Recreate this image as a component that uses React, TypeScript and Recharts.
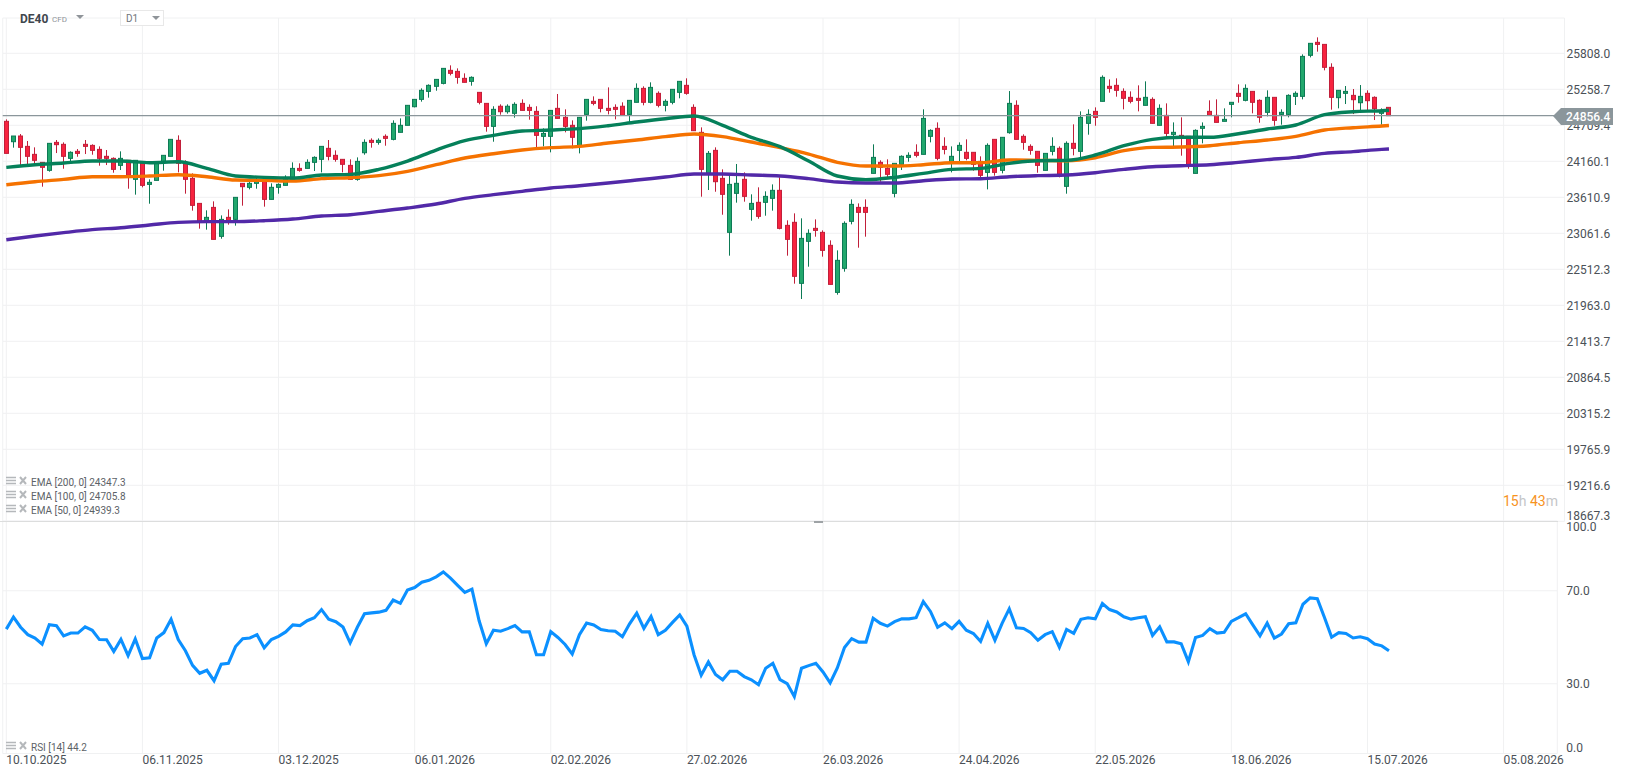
import * as React from "react";
import { ComposedChart, LineChart, Bar, Line, XAxis, YAxis, CartesianGrid, ReferenceLine } from "recharts";

const opens = [
  24770, 24459, 24546, 24388, 24266, 24144, 24022, 24449, 24419, 24205,
  24312, 24419, 24403, 24342, 24236, 24205, 24098, 24175, 23885, 24129,
  23808, 23869, 24144, 24236, 24480, 24144, 23900, 23518, 23244, 23457,
  23015, 23305, 23274, 23824, 23763, 23824, 23885, 23579, 23763, 23793,
  23885, 24052, 24052, 24144, 24190, 24358, 24251, 24190, 24098, 23885,
  24291, 24480, 24449, 24541, 24495, 24602, 24709, 24993, 25105, 25227,
  25304, 25349, 25548, 25532, 25426, 25380, 25212, 25044, 24693, 25000,
  24917, 24892, 25044, 24983, 24922, 24541, 24541, 24968, 24831, 24709,
  24388, 24876, 25075, 25105, 24968, 24983, 25000, 24876, 25060, 25273,
  25060, 25197, 25014, 25060, 25212, 25319, 24983, 24602, 23976, 24327,
  23900, 23076, 23671, 23885, 23427, 23534, 23534, 23595, 23717, 23183,
  23229, 22298, 22939, 23137, 23076, 22878, 22160, 22527, 23244, 23457,
  23457, 23976, 24144, 24052, 23671, 24114, 24220, 24297, 24266, 24541,
  24663, 24388, 24144, 24327, 24297, 24297, 24159, 23991, 24495, 24022,
  24597, 25014, 24541, 24388, 24312, 24022, 24312, 24358, 23778, 24434,
  24312, 24739, 24922, 25075, 25304, 25319, 25227, 25136, 25121, 25014,
  25105, 24709, 24861, 24571, 24556, 24541, 23976, 24663, 24922, 24861,
  24770, 25029, 25197, 25090, 25227, 25090, 24907, 25136, 24876, 24876,
  25151, 25151, 25777, 25975, 25944, 25594, 25131, 25197, 25166, 25054,
  25197, 25136, 24892, 24983,
];

const highs = [
  24800, 24546, 24576, 24470, 24373, 24144, 24434, 24485, 24449, 24312,
  24347, 24485, 24419, 24388, 24332, 24220, 24312, 24175, 24175, 24159,
  23885, 24129, 24251, 24495, 24556, 24175, 23976, 23518, 23412, 23549,
  23335, 23427, 23610, 23824, 23864, 23915, 23900, 23824, 23824, 23946,
  24144, 24129, 24190, 24236, 24388, 24485, 24327, 24190, 24190, 24220,
  24495, 24510, 24510, 24571, 24785, 24815, 25014, 25105, 25273, 25334,
  25410, 25578, 25624, 25578, 25502, 25456, 25212, 25044, 25000, 25029,
  25029, 25060, 25105, 25029, 25000, 24663, 24937, 25187, 24953, 24785,
  24831, 25105, 25151, 25105, 25288, 25029, 25060, 25090, 25349, 25304,
  25365, 25227, 25105, 25258, 25380, 25426, 25029, 24678, 24317, 24373,
  24037, 23961, 24119, 23991, 23656, 23763, 23702, 23808, 23915, 23259,
  23366, 23290, 23122, 23274, 23106, 22954, 22801, 23244, 23579, 23518,
  23579, 24419, 24175, 24190, 24129, 24251, 24297, 24419, 24953, 24648,
  24754, 24526, 24388, 24449, 24495, 24297, 24236, 24434, 24495, 24526,
  25232, 25090, 24571, 24419, 24312, 24281, 24526, 24388, 24464, 24724,
  24922, 24953, 24983, 25471, 25410, 25426, 25273, 25227, 25319, 25380,
  25136, 25029, 25044, 24754, 24831, 24541, 24648, 24754, 25090, 25105,
  24968, 25060, 25334, 25334, 25227, 25105, 25243, 25136, 24953, 25182,
  25227, 25792, 25960, 26051, 25944, 25655, 25243, 25309, 25263, 25324,
  25243, 25151, 24968, 24983,
];

const lows = [
  24281, 24368, 24098, 24114, 24114, 23773, 24002, 24286, 24047, 24159,
  24230, 24271, 24261, 24093, 24103, 23986, 24027, 23742, 23651, 23763,
  23513, 23869, 24017, 24236, 23991, 23666, 23407, 23132, 23117, 22969,
  22979, 23193, 23178, 23483, 23732, 23742, 23468, 23579, 23666, 23793,
  23885, 24002, 24052, 24012, 23991, 24175, 24154, 23991, 23885, 23864,
  24261, 24368, 24414, 24398, 24480, 24602, 24709, 24983, 25070, 25131,
  25237, 25334, 25471, 25344, 25365, 25314, 25029, 24612, 24459, 24871,
  24887, 24826, 24937, 24795, 24353, 24388, 24297, 24815, 24602, 24358,
  24281, 24780, 25014, 24907, 24876, 24800, 24861, 24754, 25060, 25014,
  25044, 24983, 24922, 25029, 25121, 25176, 24627, 23620, 23722, 23696,
  23345, 22720, 23529, 23544, 23254, 23284, 23330, 23407, 23122, 22720,
  22293, 22059, 22552, 23010, 22705, 22282, 22125, 22476, 23198, 22842,
  23010, 23976, 23849, 23900, 23610, 24027, 24154, 24220, 24266, 24449,
  24175, 24266, 23991, 24154, 24175, 24017, 23915, 23732, 23941, 23976,
  24581, 24495, 24337, 24261, 23986, 24022, 24251, 23915, 23666, 24251,
  24220, 24566, 24703, 25075, 25207, 25146, 24953, 25044, 24922, 25014,
  24739, 24709, 24510, 24358, 24246, 24047, 23976, 24434, 24861, 24754,
  24770, 24831, 25054, 25075, 24892, 24749, 24846, 24703, 24719, 24831,
  25019, 25105, 25746, 25833, 25548, 24948, 24968, 25034, 24881, 24902,
  24932, 24790, 24719, 24856.4,
];

const closes = [
  24281, 24546, 24373, 24236, 24175, 24068, 24434, 24414, 24236, 24297,
  24281, 24388, 24327, 24205, 24205, 24037, 24205, 23946, 24175, 23793,
  23839, 24129, 24251, 24495, 24129, 23885, 23488, 23239, 23305, 22969,
  23274, 23259, 23610, 23773, 23824, 23864, 23579, 23763, 23808, 23885,
  24052, 24022, 24144, 24220, 24388, 24236, 24190, 24114, 23885, 24159,
  24449, 24449, 24480, 24510, 24739, 24709, 25014, 25105, 25243, 25319,
  25410, 25578, 25502, 25441, 25365, 25441, 25060, 24693, 24953, 24917,
  25000, 25029, 24937, 24937, 24556, 24586, 24937, 24815, 24693, 24526,
  24831, 25105, 25044, 24968, 24937, 24953, 24861, 25090, 25273, 25060,
  25288, 25014, 25075, 25258, 25380, 25197, 24627, 24037, 24281, 23849,
  23656, 23808, 23824, 23625, 23518, 23320, 23625, 23717, 23137, 22969,
  22405, 22984, 23061, 23106, 22801, 22282, 22649, 23213, 23503, 23381,
  23381, 24220, 24068, 23961, 24129, 24236, 24251, 24251, 24815, 24632,
  24205, 24342, 24236, 24403, 24205, 24114, 23946, 24403, 23991, 24526,
  25044, 24495, 24449, 24327, 24098, 24281, 24388, 23930, 24434, 24358,
  24831, 24876, 24831, 25441, 25273, 25243, 25121, 25075, 25090, 25136,
  24739, 24968, 24586, 24602, 24526, 24098, 24632, 24693, 24861, 24754,
  24800, 25060, 25151, 25273, 25060, 24831, 25136, 24785, 24907, 25166,
  25197, 25761, 25960, 25944, 25594, 25136, 25243, 25227, 25100, 25151,
  25085, 24963, 24927, 24856.4,
];

// EMAs, last entry is the final bar (193)
const ema50 = [
  24068, 24108, 24134, 24164, 24164, 24139, 24154, 24052, 23936, 23915,
  23905, 23951, 23961, 24037, 24164, 24332, 24475, 24556, 24622, 24637,
  24658, 24703, 24759, 24810, 24851, 24709, 24526, 24383, 24164, 23936,
  23880, 23915, 23976, 24037, 24052, 24129, 24169, 24175, 24256, 24398,
  24495, 24526, 24526, 24581, 24653, 24714, 24871, 24917, 24932, 24939.3,
];
const ema100 = [
  23803, 23849, 23885, 23925, 23925, 23936, 23956, 23925, 23874, 23869,
  23859, 23895, 23910, 23941, 24007, 24108, 24210, 24276, 24332, 24368,
  24388, 24439, 24485, 24536, 24576, 24536, 24454, 24368, 24271, 24144,
  24088, 24088, 24108, 24139, 24139, 24180, 24175, 24169, 24215, 24322,
  24373, 24378, 24398, 24444, 24485, 24541, 24637, 24673, 24698, 24705.8,
];
const ema200 = [
  22964, 23020, 23071, 23117, 23147, 23188, 23229, 23239, 23239, 23254,
  23279, 23325, 23345, 23396, 23447, 23508, 23595, 23651, 23702, 23752,
  23788, 23829, 23874, 23920, 23966, 23966, 23951, 23936, 23895, 23844,
  23829, 23829, 23864, 23890, 23895, 23925, 23941, 23951, 23986, 24037,
  24078, 24093, 24108, 24144, 24185, 24220, 24281, 24307, 24342, 24347.3,
];

const rsi = [
  53.5, 58.7, 54.3, 51.1, 49.6, 47.0, 55.4, 55.0, 50.6, 51.8,
  51.8, 54.5, 53.0, 49.0, 48.9, 43.9, 49.1, 42.1, 49.3, 40.8,
  41.2, 49.7, 52.0, 57.7, 49.0, 44.2, 37.9, 34.5, 35.8, 31.3,
  38.4, 38.8, 46.0, 49.4, 49.7, 51.1, 45.5, 49.0, 50.4, 52.3,
  55.3, 55.0, 57.1, 58.4, 61.9, 57.8, 56.7, 54.4, 47.6, 54.3,
  60.1, 60.5, 60.8, 61.6, 66.0, 64.6, 70.3, 71.4, 73.7, 74.5,
  76.0, 78.1, 75.4, 72.3, 69.3, 70.7, 57.1, 47.2, 53.0, 52.6,
  53.7, 55.0, 52.3, 52.3, 42.5, 42.5, 52.4, 49.9, 46.9, 42.8,
  51.1, 56.1, 55.3, 53.3, 52.8, 52.6, 50.2, 55.8, 60.4, 53.8,
  58.9, 51.1, 53.0, 56.4, 59.6, 54.8, 42.5, 33.7, 39.4, 34.0,
  31.7, 35.4, 35.4, 33.1, 31.7, 29.6, 36.7, 38.8, 31.8, 30.1,
  24.5, 36.7, 37.8, 38.8, 35.1, 30.4, 36.8, 45.6, 49.4, 47.9,
  47.9, 58.2, 56.0, 54.8, 56.7, 57.9, 57.9, 58.4, 65.3, 61.1,
  54.3, 56.2, 53.7, 56.8, 53.0, 51.6, 48.2, 56.0, 48.7, 56.0,
  62.2, 54.1, 53.8, 52.0, 48.7, 51.1, 52.4, 45.7, 53.4, 51.7,
  57.7, 58.4, 57.9, 64.5, 61.9, 60.9, 58.8, 57.8, 58.4, 58.8,
  50.8, 54.5, 48.0, 48.0, 47.2, 39.5, 49.9, 50.8, 53.7, 51.8,
  52.1, 56.8, 58.4, 60.1, 55.3, 50.6, 56.1, 49.6, 51.4, 55.8,
  56.2, 64.2, 66.9, 66.6, 58.5, 50.0, 52.0, 51.6, 49.7, 50.2,
  49.4, 47.1, 46.3, 44.2,
];

const dateLabels = [
  "10.10.2025", "06.11.2025", "03.12.2025", "06.01.2026", "02.02.2026", "27.02.2026",
  "26.03.2026", "24.04.2026", "22.05.2026", "18.06.2026", "15.07.2026", "05.08.2026",
];
const priceTicks = [
  25808.0, 25258.7, 24709.4, 24160.1, 23610.9, 23061.6, 22512.3, 21963.0, 21413.7, 20864.5, 20315.2, 19765.9,
  19216.6, 18667.3,
];
const rsiTicks = [0, 30, 70, 100];

const FONT = "Roboto, sans-serif";
const TEXT = "#4b5157";
const GRID = "#f0f1f2";
const BARS_PER_DATE = 19;
const dateBars = dateLabels.map((_, i) => i * BARS_PER_DATE);
const lastBar = closes.length - 1;

const emaSlot = (bar: number) => (bar === lastBar ? ema50.length - 1 : bar % 4 === 0 ? bar / 4 : -1);

const makeRows = (slots: number) =>
  Array.from({ length: slots }, (_, i) => {
    if (i > lastBar) return { bar: i };
    const s = emaSlot(i);
    return {
      bar: i,
      open: opens[i],
      high: highs[i],
      low: lows[i],
      close: closes[i],
      range: [lows[i], highs[i]],
      ema50: s >= 0 ? ema50[s] : null,
      ema100: s >= 0 ? ema100[s] : null,
      ema200: s >= 0 ? ema200[s] : null,
      rsi: rsi[i],
    };
  });

const priceRows = makeRows(218);
const rsiRows = makeRows(217);

function Candle(props: any) {
  const { x, y, width, height, payload } = props;
  if (payload == null || payload.high == null) return null;
  const { open, high, low, close } = payload;
  const up = close >= open;
  const perUnit = height / (high - low || 1);
  const cx = Math.round(x + width / 2 - 0.5) + 0.5;
  const top = y + (high - Math.max(open, close)) * perUnit;
  const bottom = y + (high - Math.min(open, close)) * perUnit;
  const edge = up ? "#0d7a55" : "#c11f3a";
  return (
    <g>
      <line x1={cx} x2={cx} y1={y} y2={y + height} stroke={edge} strokeWidth={1} />
      <rect
        x={cx - 2}
        y={top}
        width={4}
        height={Math.max(bottom - top, 1)}
        fill={up ? "#22a86d" : "#f7233f"}
        stroke={edge}
        strokeWidth={1}
      />
    </g>
  );
}

function PriceTick(props: any) {
  const { x, y, payload } = props;
  const nudge = payload.value === 18667.3 ? -6 : 0;
  return (
    <text x={x} y={y + nudge} dy={4.5} textAnchor="start" fontFamily={FONT} fontSize={12} fill={TEXT}>
      {payload.value.toFixed(1)}
    </text>
  );
}

function RsiTick(props: any) {
  const { x, y, payload } = props;
  const nudge = payload.value === 100 ? 6 : payload.value === 0 ? -5.5 : 0;
  return (
    <text x={x} y={y + nudge} dy={4} textAnchor="start" fontFamily={FONT} fontSize={12} fill={TEXT}>
      {payload.value.toFixed(1)}
    </text>
  );
}

function DateTick(props: any) {
  const { x, y, payload } = props;
  return (
    <text x={x} y={y} dy={6} textAnchor="start" fontFamily={FONT} fontSize={12} fill={TEXT}>
      {dateLabels[payload.value / BARS_PER_DATE]}
    </text>
  );
}

function LegendRow({ top, text }: { top: number; text: string }) {
  return (
    <div style={{ position: "absolute", left: 6, top, height: 14, width: 140 }}>
      <svg width={24} height={14} style={{ position: "absolute", left: 0, top: 0 }}>
        <path d="M0 2.5H10M0 5.5H10M0 8.5H10" stroke="#b5b8bb" strokeWidth={1.6} />
        <path d="M14 2L20 9M20 2L14 9" stroke="#b5b8bb" strokeWidth={2} />
      </svg>
      <span style={{ position: "absolute", left: 25, top: 1, fontSize: 10, lineHeight: "13px", color: "#5c6267", whiteSpace: "nowrap" }}>
        {text}
      </span>
    </div>
  );
}

export default function App() {
  return (
    <div style={{ position: "absolute", left: 0, top: 0, width: 1626, height: 779, overflow: "hidden", background: "#fff", fontFamily: FONT }}>
      <div style={{ position: "absolute", left: 0, top: 0 }}>
        <ComposedChart
          width={1626}
          height={530}
          data={priceRows}
          barCategoryGap={0}
          margin={{ top: 18, right: 0, bottom: 8.7, left: 2.72 }}
        >
          <CartesianGrid stroke={GRID} strokeWidth={1} />
          <XAxis dataKey="bar" type="category" hide ticks={dateBars} interval={0} height={0} />
          <YAxis
            orientation="right"
            width={61.5}
            domain={[18667.3, 26346.6]}
            ticks={priceTicks}
            interval={0}
            allowDataOverflow
            axisLine={false}
            tickLine={false}
            tickSize={0}
            tickMargin={2}
            tick={<PriceTick />}
          />
          <Bar dataKey="range" barSize={5} shape={<Candle />} isAnimationActive={false} />
          <ReferenceLine y={closes[lastBar]} stroke="#8b969b" strokeWidth={1.4} />
          <Line dataKey="ema200" connectNulls type="monotone" stroke="#5229a8" strokeWidth={3.4} dot={false} isAnimationActive={false} />
          <Line dataKey="ema100" connectNulls type="monotone" stroke="#f57200" strokeWidth={3.4} dot={false} isAnimationActive={false} />
          <Line dataKey="ema50" connectNulls type="monotone" stroke="#05805a" strokeWidth={3.4} dot={false} isAnimationActive={false} />
        </ComposedChart>
      </div>

      <div style={{ position: "absolute", left: 0, top: 515 }}>
        <LineChart
          width={1626}
          height={264}
          data={rsiRows}
          margin={{ top: 6, right: 0, bottom: 0, left: 2.72 }}
        >
          <CartesianGrid stroke={GRID} strokeWidth={1} />
          <XAxis
            dataKey="bar"
            type="category"
            scale="band"
            ticks={dateBars}
            interval={0}
            height={25.5}
            axisLine={false}
            tickLine={false}
            tickSize={0}
            tickMargin={4}
            tick={<DateTick />}
          />
          <YAxis
            orientation="right"
            width={68.7}
            domain={[0, 100]}
            ticks={rsiTicks}
            interval={0}
            axisLine={false}
            tickLine={false}
            tickSize={0}
            tickMargin={9}
            tick={<RsiTick />}
          />
          <Line dataKey="rsi" type="linear" stroke="#0b90ff" strokeWidth={3.1} dot={false} isAnimationActive={false} />
        </LineChart>
      </div>

      {/* pane divider and its drag handle */}
      <div style={{ position: "absolute", left: 0, top: 520.5, width: 1558, height: 1.5, background: "#dcdddd" }} />
      <div style={{ position: "absolute", left: 814, top: 521, width: 9, height: 2, background: "#9ea3a6" }} />

      {/* last price tag */}
      <svg width={80} height={24} style={{ position: "absolute", left: 1546, top: 104 }}>
        <polygon points="7,12 15,4 67,4 67,21 15,21" fill="#8b969b" />
        <text x={20} y={17} fontFamily={FONT} fontSize={12} fontWeight={500} fill="#fff">
          24856.4
        </text>
      </svg>

      {/* header */}
      <div style={{ position: "absolute", left: 20, top: 12, fontSize: 12, fontWeight: 700, lineHeight: "14px", color: "#3f464d" }}>DE40</div>
      <div style={{ position: "absolute", left: 52, top: 14, fontSize: 8, lineHeight: "11px", color: "#8f9499" }}>CFD</div>
      <svg width={12} height={8} style={{ position: "absolute", left: 75, top: 14 }}>
        <polygon points="1,1 9,1 5,5" fill="#8f9499" />
      </svg>
      <div style={{ position: "absolute", left: 120, top: 10, width: 42, height: 14, border: "1px solid #e8e8e8", background: "#fff", boxSizing: "content-box" }}>
        <span style={{ position: "absolute", left: 5, top: 1, fontSize: 10, lineHeight: "13px", color: "#70767b" }}>D1</span>
        <svg width={10} height={6} style={{ position: "absolute", left: 31, top: 5 }}>
          <polygon points="0,0 8,0 4,4" fill="#8f9499" />
        </svg>
      </div>

      {/* indicator legends */}
      <LegendRow top={475} text="EMA [200, 0] 24347.3" />
      <LegendRow top={489} text="EMA [100, 0] 24705.8" />
      <LegendRow top={503} text="EMA [50, 0] 24939.3" />
      <LegendRow top={740} text="RSI [14] 44.2" />

      {/* candle countdown */}
      <div style={{ position: "absolute", left: 1503, top: 494, fontSize: 14, lineHeight: "14px", whiteSpace: "nowrap", color: "#c4c6c8" }}>
        <span style={{ color: "#f7931e" }}>15</span>h <span style={{ color: "#f7931e" }}>43</span>m
      </div>
    </div>
  );
}
